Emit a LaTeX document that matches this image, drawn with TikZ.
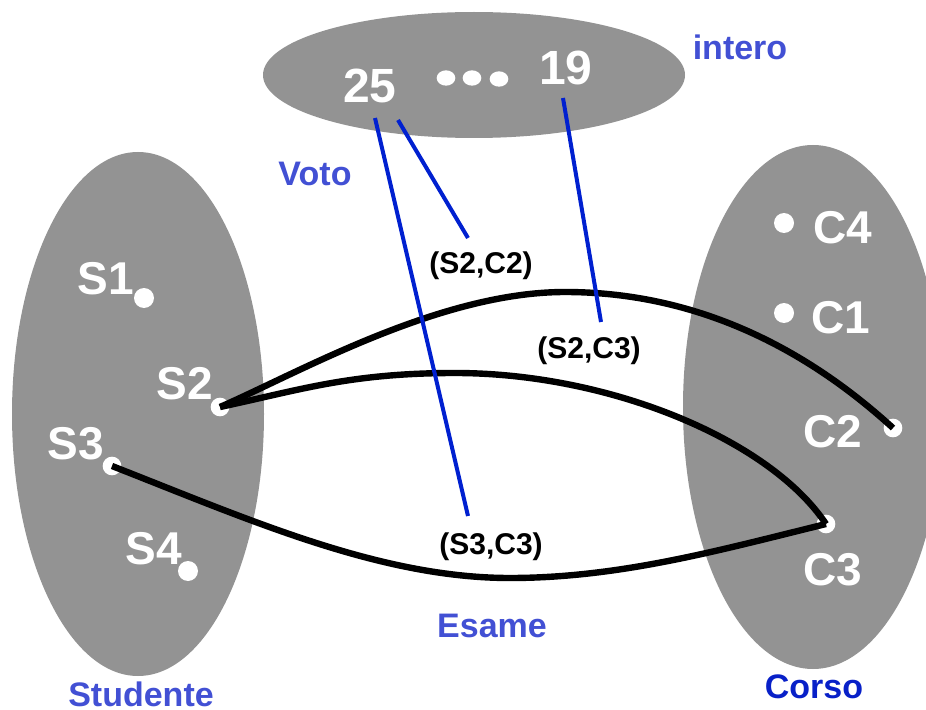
\documentclass[tikz,border=0pt]{standalone}
\usepackage{fontspec}
\setmainfont{Liberation Sans}
\usetikzlibrary{shapes.geometric}
\definecolor{setgray}{RGB}{147,147,147}
\definecolor{lblue}{RGB}{66,80,212}
\definecolor{dblue}{RGB}{8,32,200}
\definecolor{lineblue}{RGB}{0,32,208}
\tikzset{
  whitelbl/.style={text=white, font=\bfseries\fontsize{34.5}{40}\selectfont, inner sep=0pt},
  numlbl/.style={text=white, font=\bfseries\fontsize{36}{42}\selectfont, inner sep=0pt},
  pairlbl/.style={text=black, font=\bfseries\fontsize{22.5}{26}\selectfont, inner sep=0pt},
  setlbl/.style={text=lblue, font=\bfseries\fontsize{25.5}{30}\selectfont, inner sep=0pt},
  elem/.style={circle, fill=white, draw=none, minimum size=15pt, inner sep=0pt},
  endpt/.style={circle, fill=white, draw=none, minimum size=14pt, inner sep=0pt},
  dotsym/.style={ellipse, fill=white, draw=none, minimum width=14pt, minimum height=11.5pt, inner sep=0pt},
  rel/.style={line width=4.8pt, black},
  attr/.style={line width=3pt, lineblue},
}
\begin{document}
\begin{tikzpicture}[x=0.75pt, y=-0.75pt]
\useasboundingbox (0,0) rectangle (926,710);
\clip (0,0) rectangle (926,710);
% sets
\fill[setgray] (474,75) ellipse [x radius=211, y radius=63];
\fill[setgray] (138,414) ellipse [x radius=126, y radius=262];
\fill[setgray] (813,407) ellipse [x radius=130, y radius=262];
% top ellipse content
\node[numlbl] (n25) at (370,86) {25};
\node[numlbl] (n19) at (566,68) {19};
\node[dotsym] (d1) at (446,78) {};
\node[dotsym] (d2) at (472,78) {};
\node[dotsym] (d3) at (499,79) {};
% elements
\node[elem] (s1) at (144,298) {};
\node[elem] (s4) at (188,571) {};
\node[elem] (c4) at (784,223) {};
\node[elem] (c1) at (784,313) {};
\node[endpt] (s2) at (220,407) {};
\node[endpt] (s3) at (112,466) {};
\node[endpt] (c2) at (893,428) {};
\node[endpt] (c3) at (826,524) {};
\node[whitelbl] (ls1) at (106,279) {S1};
\node[whitelbl] (ls2) at (185,384) {S2};
\node[whitelbl] (ls3) at (76,444) {S3};
\node[whitelbl] (ls4) at (154,549) {S4};
\node[whitelbl] (lc4) at (843,228) {C4};
\node[whitelbl] (lc1) at (841,318) {C1};
\node[whitelbl] (lc2) at (833,432) {C2};
\node[whitelbl] (lc3) at (833,570) {C3};
% relation curves
\coordinate (p1) at (565,292);
\coordinate (p2) at (455,373);
\coordinate (p3) at (510,578);
\draw[rel] (s2.center) .. controls (300,372) and (440,292) .. (p1)
                        .. controls (690,292) and (800,343) .. (c2.center);
\draw[rel] (s2.center) .. controls (300,390) and (350,373) .. (p2)
                        .. controls (610,373) and (770,440) .. (c3.center);
\draw[rel] (s3.center) .. controls (250,520) and (380,578) .. (p3)
                        .. controls (620,578) and (720,550) .. (c3.center);
% pair labels
\node[pairlbl] (e22) at (481,266) {(S2,C2)};
\node[pairlbl] (e23) at (589,351) {(S2,C3)};
\node[pairlbl] (e33) at (491,547) {(S3,C3)};
% attribute lines
\coordinate (a25a) at (375,118);
\coordinate (a25b) at (398,120);
\coordinate (a19) at (563,98);
\coordinate (t33) at (468,516);
\coordinate (t22) at (468,238);
\coordinate (t23) at (601,322);
\draw[attr] (a25a) -- (t33);
\draw[attr] (a25b) -- (t22);
\draw[attr] (a19) -- (t23);
% set names
\node[setlbl] (voto) at (315,174) {Voto};
\node[setlbl] (intero) at (740,47) {intero};
\node[setlbl] (esame) at (492,626) {Esame};
\node[setlbl] (stud) at (141,694) {Studente};
\node[setlbl, text=dblue] (corso) at (814,687) {Corso};
\end{tikzpicture}
\end{document}
